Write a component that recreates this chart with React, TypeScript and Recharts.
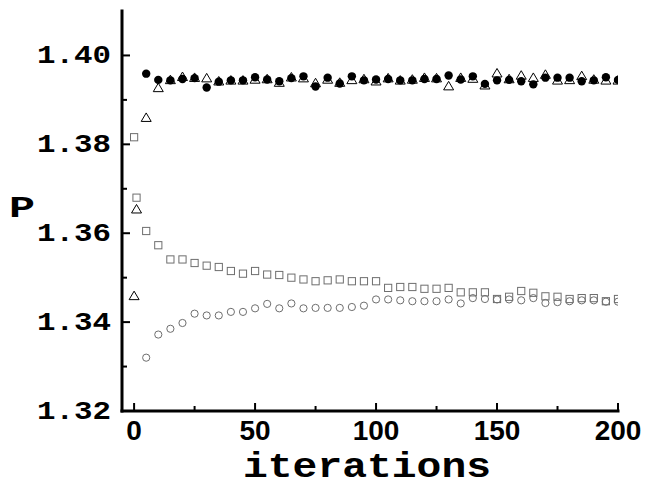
import React from "react";
import { ScatterChart, Scatter, XAxis, YAxis } from "recharts";

// iteration numbers (sampled every 5) plus the two early points
const earlyIterations = [0, 1];
const iterations = [
  5, 10, 15, 20, 25, 30, 35, 40, 45, 50, 55, 60, 65, 70, 75, 80, 85, 90, 95, 100,
  105, 110, 115, 120, 125, 130, 135, 140, 145, 150, 155, 160, 165, 170, 175, 180, 185, 190, 195, 200,
];

const filledCircles = [
  1.3959, 1.3945, 1.3944, 1.3947, 1.3949, 1.3928, 1.3941, 1.3944, 1.3944, 1.3951,
  1.3946, 1.3942, 1.3949, 1.3953, 1.393, 1.395, 1.3937, 1.3953, 1.3944, 1.3946,
  1.3947, 1.3944, 1.3944, 1.3947, 1.3947, 1.3955, 1.3946, 1.3953, 1.3936, 1.3944,
  1.3945, 1.3942, 1.3935, 1.395, 1.395, 1.395, 1.3942, 1.3944, 1.3951, 1.3945,
];

const trianglesEarly = [1.346, 1.3655];
const triangles = [
  1.3861, 1.3928, 1.3946, 1.3953, 1.3951, 1.395, 1.3943, 1.3945, 1.3945, 1.3947,
  1.3948, 1.394, 1.3952, 1.395, 1.3939, 1.3947, 1.394, 1.3946, 1.3948, 1.3943,
  1.395, 1.3945, 1.3947, 1.3951, 1.395, 1.3932, 1.3951, 1.3949, 1.3934, 1.3961,
  1.3948, 1.3956, 1.3951, 1.3958, 1.3945, 1.3946, 1.3955, 1.3947, 1.3945, 1.3945,
];

const squaresEarly = [1.3816, 1.368];
const squares = [
  1.3605, 1.3573, 1.3541, 1.3541, 1.3533, 1.3527, 1.3524, 1.3515, 1.3509, 1.3515,
  1.3507, 1.3506, 1.35, 1.3496, 1.3492, 1.3494, 1.3496, 1.3492, 1.3492, 1.3492,
  1.3477, 1.3479, 1.3479, 1.3475, 1.3475, 1.3477, 1.3467, 1.3467, 1.3467, 1.3452,
  1.3457, 1.347, 1.3466, 1.3458, 1.3457, 1.3452, 1.3454, 1.3454, 1.3447, 1.3452,
];

const openCircles = [
  1.332, 1.3372, 1.3385, 1.3398, 1.3419, 1.3415, 1.3415, 1.3423, 1.3423, 1.3431,
  1.3441, 1.3431, 1.3442, 1.3431, 1.3432, 1.3432, 1.3432, 1.3434, 1.3437, 1.3451,
  1.3451, 1.3449, 1.3447, 1.3447, 1.3447, 1.3451, 1.3442, 1.3454, 1.3452, 1.3451,
  1.3451, 1.3449, 1.3454, 1.3443, 1.3445, 1.3447, 1.3449, 1.3449, 1.3446, 1.3446,
];

const xTicks = [0, 25, 50, 75, 100, 125, 150, 175, 200];
const yTicks = [1.32, 1.33, 1.34, 1.35, 1.36, 1.37, 1.38, 1.39, 1.4];

const toPoints = (xs: number[], ys: number[]) => ys.map((y, i) => ({ x: xs[i], y }));

const filledData = toPoints(iterations, filledCircles);
const triangleData = [...toPoints(earlyIterations, trianglesEarly), ...toPoints(iterations, triangles)];
const squareData = [...toPoints(earlyIterations, squaresEarly), ...toPoints(iterations, squares)];
const openData = toPoints(iterations, openCircles);

const MONO = "'Liberation Mono', 'Courier New', monospace";
const SANS = "'Liberation Sans', Arial, sans-serif";

const isMajorX = (v: number) => v % 50 === 0;
const isMajorY = (v: number) => Math.round(v * 100) % 2 === 0;

function BottomTick({ x, y, payload }: any) {
  const major = isMajorX(payload.value);
  return (
    <g>
      <line x1={x} x2={x} y1={y} y2={y - (major ? 8 : 5)} stroke="#000" strokeWidth={2} />
      {major && (
        <text x={x} y={y + 29} textAnchor="middle" fontFamily={SANS} fontWeight="bold" fontSize={28} fill="#000">
          {payload.value}
        </text>
      )}
    </g>
  );
}

function TopTick({ x, y, payload }: any) {
  const major = isMajorX(payload.value);
  return <line x1={x} x2={x} y1={y} y2={y + (major ? 8 : 5)} stroke="#000" strokeWidth={2} />;
}

function LeftTick({ x, y, payload }: any) {
  const major = isMajorY(payload.value);
  return (
    <g>
      <line x1={x} x2={x + (major ? 8 : 5)} y1={y} y2={y} stroke="#000" strokeWidth={2} />
      {major && (
        <text
          x={x - 11}
          y={y + 8}
          textAnchor="end"
          fontFamily={MONO}
          fontWeight="bold"
          fontSize={25}
          textLength={74}
          lengthAdjust="spacingAndGlyphs"
          fill="#000"
        >
          {payload.value.toFixed(2)}
        </text>
      )}
    </g>
  );
}

function RightTick({ x, y, payload }: any) {
  const major = isMajorY(payload.value);
  return <line x1={x} x2={x - (major ? 8 : 5)} y1={y} y2={y} stroke="#000" strokeWidth={2} />;
}

const FilledDot = ({ cx, cy }: any) => <circle cx={cx} cy={cy} r={4.2} fill="#000" />;
const OpenDot = ({ cx, cy }: any) => <circle cx={cx} cy={cy} r={3.6} fill="none" stroke="#6e6e6e" strokeWidth={1} />;
const OpenSquare = ({ cx, cy }: any) => (
  <rect x={cx - 3.6} y={cy - 3.6} width={7.2} height={7.2} fill="none" stroke="#6e6e6e" strokeWidth={1} />
);
const OpenTriangle = ({ cx, cy }: any) => (
  <path d={`M${cx},${cy - 4.3}L${cx + 5},${cy + 4.2}L${cx - 5},${cy + 4.2}Z`} fill="none" stroke="#000" strokeWidth={1} />
);

const axisStroke = { stroke: "#000", strokeWidth: 3, strokeLinecap: "square" as const };

export default function App() {
  return (
    <div style={{ position: "absolute", left: 0, top: 0, width: 647, height: 487, background: "#fff" }}>
      <ScatterChart width={647} height={487} margin={{ top: 11, right: 29, bottom: 0, left: 0 }}>
        <XAxis
          dataKey="x"
          type="number"
          domain={[-5, 200]}
          allowDataOverflow
          ticks={xTicks}
          interval={0}
          height={76}
          tickSize={0}
          tickMargin={0}
          tickLine={false}
          axisLine={axisStroke}
          tick={<BottomTick />}
          label={{
            value: "iterations",
            position: "insideBottom",
            offset: 0,
            content: ({ viewBox }: any) => (
              <text
                x={viewBox.x + viewBox.width / 2 - 3}
                y={477}
                textAnchor="middle"
                fontFamily={MONO}
                fontWeight="bold"
                fontSize={35}
                textLength={248}
                lengthAdjust="spacingAndGlyphs"
                fill="#000"
              >
                iterations
              </text>
            ),
          }}
        />
        <XAxis
          xAxisId="top"
          orientation="top"
          type="number"
          domain={[-5, 200]}
          allowDataOverflow
          ticks={xTicks}
          interval={0}
          height={0}
          tickSize={0}
          tickMargin={0}
          tickLine={false}
          axisLine={axisStroke}
          tick={<TopTick />}
        />
        <YAxis
          dataKey="y"
          type="number"
          domain={[1.32, 1.41]}
          allowDataOverflow
          ticks={yTicks}
          interval={0}
          width={122}
          tickSize={0}
          tickMargin={0}
          tickLine={false}
          axisLine={axisStroke}
          tick={<LeftTick />}
          label={{
            value: "P",
            content: () => (
              <text
                x={22}
                y={217}
                textAnchor="middle"
                fontFamily={MONO}
                fontWeight="bold"
                fontSize={30}
                textLength={26}
                lengthAdjust="spacingAndGlyphs"
                fill="#000"
              >
                P
              </text>
            ),
          }}
        />
        <YAxis
          yAxisId="right"
          orientation="right"
          type="number"
          domain={[1.32, 1.41]}
          allowDataOverflow
          ticks={yTicks}
          interval={0}
          width={0}
          tickSize={0}
          tickMargin={0}
          tickLine={false}
          axisLine={axisStroke}
          tick={<RightTick />}
        />
        <Scatter data={squareData} shape={<OpenSquare />} isAnimationActive={false} />
        <Scatter data={openData} shape={<OpenDot />} isAnimationActive={false} />
        <Scatter data={triangleData} shape={<OpenTriangle />} isAnimationActive={false} />
        <Scatter data={filledData} shape={<FilledDot />} isAnimationActive={false} />
      </ScatterChart>
    </div>
  );
}
